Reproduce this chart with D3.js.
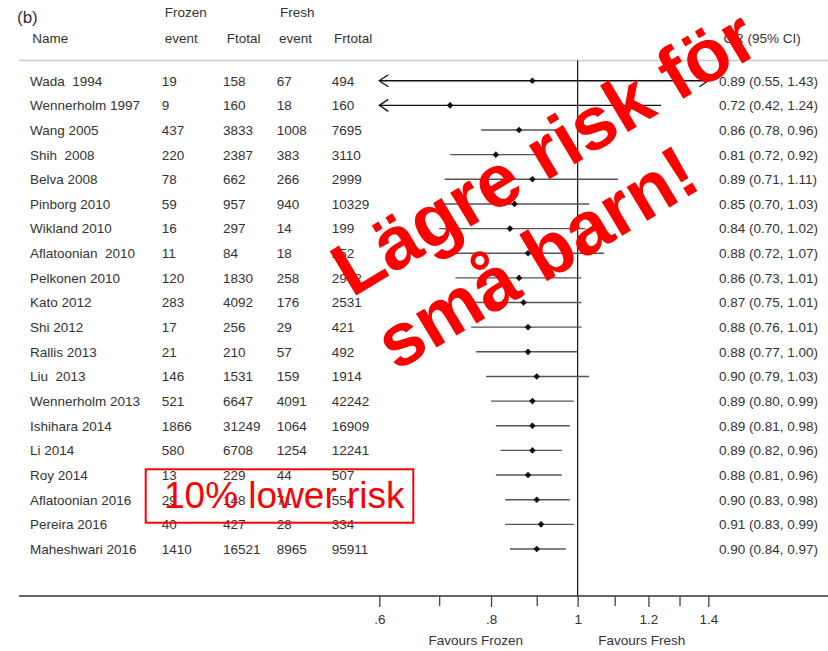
<!DOCTYPE html>
<html>
<head>
<meta charset="utf-8">
<script src="https://cdn.jsdelivr.net/npm/d3@7"></script>
<style>
  html, body { margin: 0; padding: 0; background: #fff; }
  svg { display: block; }
  text { font-family: "Liberation Sans", Arial, Helvetica, sans-serif; }
</style>
</head>
<body>
<div id="chart"></div>
<script>
// Study rows of the forest plot
const names = [
  "Wada  1994", "Wennerholm 1997", "Wang 2005", "Shih  2008", "Belva 2008",
  "Pinborg 2010", "Wikland 2010", "Aflatoonian  2010", "Pelkonen 2010", "Kato 2012",
  "Shi 2012", "Rallis 2013", "Liu  2013", "Wennerholm 2013", "Ishihara 2014",
  "Li 2014", "Roy 2014", "Aflatoonian 2016", "Pereira 2016", "Maheshwari 2016"
];
const frozenEvent = [19, 9, 437, 220, 78, 59, 16, 11, 120, 283, 17, 21, 146, 521, 1866, 580, 13, 29, 40, 1410];
const frozenTotal = [158, 160, 3833, 2387, 662, 957, 297, 84, 1830, 4092, 256, 210, 1531, 6647, 31249, 6708, 229, 148, 427, 16521];
const freshEvent = [67, 18, 1008, 383, 266, 940, 14, 18, 258, 176, 29, 57, 159, 4091, 1064, 1254, 44, 71, 28, 8965];
const freshTotal = [494, 160, 7695, 3110, 2999, 10329, 199, 252, 2942, 2531, 421, 492, 1914, 42242, 16909, 12241, 507, 554, 334, 95911];
const orEst = [0.89, 0.72, 0.86, 0.81, 0.89, 0.85, 0.84, 0.88, 0.86, 0.87, 0.88, 0.88, 0.90, 0.89, 0.89, 0.89, 0.88, 0.90, 0.91, 0.90];
const ciLow = [0.55, 0.42, 0.78, 0.72, 0.71, 0.70, 0.70, 0.72, 0.73, 0.75, 0.76, 0.77, 0.79, 0.80, 0.81, 0.82, 0.81, 0.83, 0.83, 0.84];
const ciHigh = [1.43, 1.24, 0.96, 0.92, 1.11, 1.03, 1.02, 1.07, 1.01, 1.01, 1.01, 1.00, 1.03, 0.99, 0.98, 0.96, 0.96, 0.98, 0.99, 0.97];

// Axis ticks
const majorTicks = [0.6, 0.8, 1, 1.2, 1.4];
const majorTickLabels = [".6", ".8", "1", "1.2", "1.4"];
const minorTicks = [0.7, 0.9, 1.1, 1.3];

const W = 828, H = 651;
const textColor = "#333";
const fs = 13.5;

const svg = d3.select("#chart").append("svg")
  .attr("width", W).attr("height", H)
  .attr("viewBox", `0 0 ${W} ${H}`);

const x = d3.scaleLog().domain([0.6, 1.4]).range([379.3, 708.3]);
const y = d3.scalePoint().domain(d3.range(names.length)).range([80.7, 549]);
const axisY = 596;
const xMin = x.domain()[0], xMax = x.domain()[1];

// Column headers
const head = svg.append("g").attr("fill", textColor).style("font-size", fs + "px");
head.append("text").attr("x", 17).attr("y", 22.5).style("font-size", "17px").text("(b)");
[["Frozen", 164.7], ["Fresh", 280]].forEach(([t, px]) =>
  head.append("text").attr("x", px).attr("y", 17).text(t));
[["Name", 32.3], ["event", 164.7], ["Ftotal", 226.7], ["event", 279], ["Frtotal", 334]].forEach(([t, px]) =>
  head.append("text").attr("x", px).attr("y", 42.5).text(t));
head.append("text").attr("x", 800.7).attr("y", 42.5).attr("text-anchor", "end").text("OR (95% CI)");

// Frame lines
svg.append("line").attr("x1", 19).attr("x2", W).attr("y1", 60.5).attr("y2", 60.5)
  .attr("stroke", "#c8c8c8").attr("stroke-width", 1.5);
svg.append("line").attr("x1", x(1)).attr("x2", x(1)).attr("y1", 60.5).attr("y2", axisY)
  .attr("stroke", "#111").attr("stroke-width", 1.2);

// Table columns
const cols = [
  { vals: names, x: 30 },
  { vals: frozenEvent, x: 161.7 },
  { vals: frozenTotal, x: 223 },
  { vals: freshEvent, x: 276.7 },
  { vals: freshTotal, x: 331.7 }
];
const table = svg.append("g").attr("fill", textColor).style("font-size", fs + "px")
  .style("white-space", "pre");
cols.forEach(c => {
  table.selectAll(null).data(c.vals).join("text")
    .attr("x", c.x).attr("y", (d, i) => y(i)).attr("dy", "0.36em")
    .attr("xml:space", "preserve")
    .text(d => d);
});
table.selectAll(null).data(orEst).join("text")
  .attr("x", 719).attr("y", (d, i) => y(i)).attr("dy", "0.36em")
  .text((d, i) => `${d.toFixed(2)} (${ciLow[i].toFixed(2)}, ${ciHigh[i].toFixed(2)})`);

// Confidence intervals
const ci = svg.append("g");
orEst.forEach((d, i) => {
  const yy = y(i);
  const lo = Math.max(ciLow[i], xMin), hi = Math.min(ciHigh[i], xMax);
  const clipped = ciLow[i] < xMin || ciHigh[i] > xMax;
  const col = clipped ? "#111" : "#555";
  ci.append("line").attr("x1", x(lo)).attr("x2", x(hi)).attr("y1", yy).attr("y2", yy)
    .attr("stroke", col).attr("stroke-width", 1.4);
  if (ciLow[i] < xMin) {
    const ax = x(xMin);
    ci.append("path").attr("d", `M${ax + 9},${yy - 6}L${ax},${yy}L${ax + 9},${yy + 6}`)
      .attr("fill", "none").attr("stroke", "#111").attr("stroke-width", 1.3);
  }
  if (ciHigh[i] > xMax) {
    const ax = x(xMax);
    ci.append("path").attr("d", `M${ax - 9},${yy - 6}L${ax},${yy}L${ax - 9},${yy + 6}`)
      .attr("fill", "none").attr("stroke", "#111").attr("stroke-width", 1.3);
  }
});
ci.selectAll("path.pt").data(orEst).join("path").attr("class", "pt")
  .attr("transform", (d, i) => `translate(${x(d)},${y(i)}) rotate(45)`)
  .attr("d", d3.symbol(d3.symbolSquare, 22))
  .attr("fill", "#111");

// Bottom axis
svg.append("line").attr("x1", 19).attr("x2", W).attr("y1", axisY).attr("y2", axisY)
  .attr("stroke", "#333").attr("stroke-width", 1.5);
const gMajor = svg.append("g").attr("transform", `translate(0,${axisY})`)
  .call(d3.axisBottom(x).tickValues(majorTicks)
    .tickFormat((d, i) => majorTickLabels[i]).tickSize(11).tickPadding(7));
const gMinor = svg.append("g").attr("transform", `translate(0,${axisY})`)
  .call(d3.axisBottom(x).tickValues(minorTicks).tickFormat("").tickSize(10));
[gMajor, gMinor].forEach(g => {
  g.select(".domain").remove();
  g.selectAll(".tick line").attr("stroke", "#444").attr("stroke-width", 1.3);
  g.selectAll(".tick text").attr("fill", textColor)
    .style("font-size", fs + "px")
    .style("font-family", '"Liberation Sans", Arial, sans-serif');
});
svg.append("text").attr("x", 475.7).attr("y", 645).attr("text-anchor", "middle")
  .attr("fill", textColor).style("font-size", fs + "px").text("Favours Frozen");
svg.append("text").attr("x", 641.7).attr("y", 645).attr("text-anchor", "middle")
  .attr("fill", textColor).style("font-size", fs + "px").text("Favours Fresh");

// Annotations
const note = svg.append("g").attr("transform", "translate(352,298) rotate(-31)")
  .attr("fill", "#ff0000").style("font-size", "75px").style("font-weight", "bold");
note.append("text").attr("x", 0).attr("y", 0).text("Lägre risk för");
note.append("text").attr("x", 0).attr("y", 86).text("små barn!");

svg.append("rect").attr("x", 145.7).attr("y", 469.3).attr("width", 267.6).attr("height", 53.4)
  .attr("fill", "none").attr("stroke", "#ff0000").attr("stroke-width", 2);
svg.append("text").attr("x", 164).attr("y", 508.3).attr("fill", "#ff0000")
  .style("font-size", "37px").text("10% lower risk");
</script>
</body>
</html>
